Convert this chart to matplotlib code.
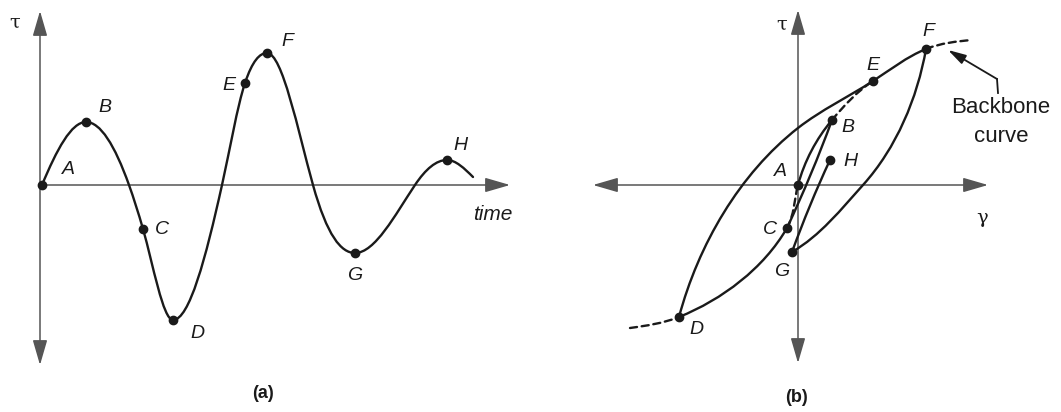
import numpy as np
import matplotlib.pyplot as plt
from matplotlib.path import Path
from matplotlib.patches import PathPatch

# (a) stress-time history: knots and slope dtau/dt at each knot
sig_x = [2, 46, 89, 103, 133, 182, 205, 227, 273, 315, 375, 407, 433]
sig_y = [0, 63, 0, -44, -135, 0, 102, 132, 0, -68, 0, 25, 8]
sig_slope = [2.4, 0, -2.8, -3.5, 0, 4.5, 3.0, 0, -3.6, 0, 1.5, 0, -1.0]
sig_names = ["A", "B", "C", "D", "E", "F", "G", "H"]
sig_idx = [0, 1, 3, 4, 6, 7, 9, 11]

# (b) backbone curve, drawn piecewise (solid where the loading follows it)
bb_x = [-168, -119, -11, 0, 34, 75, 128, 174]
bb_y = [-143, -132, -43, 0, 65, 104, 136, 145]
bb_ang = [8, 22, 60, 75, 50, 33, 22, 5]
bb_style = ["--", "-", "--", "-", "--", "-", "--"]

# (b) hysteresis branches: knots and travel direction (deg)
reload_x, reload_y, reload_ang = [-119, 0, 75], [-132, 57, 104], [75, 38, 33]
unload_x, unload_y, unload_ang = [128, 65, -6], [136, 0, -67], [-100, -132, -150]
bc_x, bc_y, bc_ang = [34, -11], [65, -43], [-110, -115]
gh_x, gh_y, gh_ang = [-6, 32], [-67, 25], [70, 65]

hyst_names = ["A", "B", "C", "D", "E", "F", "G", "H"]
hyst_x = [0, 34, -11, -119, 75, 128, -6, 32]
hyst_y = [0, 65, -43, -132, 104, 136, -67, 25]

# label placement
sig_lbl = [(28, 15), (65, 77), (122, -44), (157, -148), (189, 99), (247, 143), (315, -90), (420, 40)]
hyst_lbl = [(-18, 13), (50, 58), (-28, -45), (-102, -145), (75, 120), (130, 153), (-16, -87), (52, 23)]

INK = "#1a1a1a"
AXC = "#555555"
LW = 1.7


def path_by_angle(xs, ys, angs):
    verts = [(xs[0], ys[0])]
    codes = [Path.MOVETO]
    for i in range(len(xs) - 1):
        x0, y0, x1, y1 = xs[i], ys[i], xs[i + 1], ys[i + 1]
        h = np.hypot(x1 - x0, y1 - y0) / 3
        a0, a1 = np.radians(angs[i]), np.radians(angs[i + 1])
        verts += [(x0 + h * np.cos(a0), y0 + h * np.sin(a0)),
                  (x1 - h * np.cos(a1), y1 - h * np.sin(a1)),
                  (x1, y1)]
        codes += [Path.CURVE4] * 3
    return Path(verts, codes)


def path_by_slope(xs, ys, slopes):
    verts = [(xs[0], ys[0])]
    codes = [Path.MOVETO]
    for i in range(len(xs) - 1):
        x0, y0, x1, y1 = xs[i], ys[i], xs[i + 1], ys[i + 1]
        d = (x1 - x0) / 3
        verts += [(x0 + d, y0 + d * slopes[i]), (x1 - d, y1 - d * slopes[i + 1]), (x1, y1)]
        codes += [Path.CURVE4] * 3
    return Path(verts, codes)


def draw(ax, path, ls="-"):
    patch = PathPatch(path, fc="none", ec=INK, lw=LW, capstyle="round", zorder=3)
    if ls == "--":
        patch.set_linestyle((0, (3, 2)))
    ax.add_patch(patch)


def axis_arrow(ax, p0, p1, both=False):
    style = "<|-|>" if both else "-|>"
    ax.annotate("", xy=p1, xytext=p0,
                arrowprops=dict(arrowstyle=style + ",head_length=1.1,head_width=0.32",
                                mutation_scale=14, color=AXC, lw=1.1,
                                shrinkA=0, shrinkB=0), zorder=2)


fig = plt.figure(figsize=(10.61, 4.12), dpi=100)
ax_a = fig.add_axes([0, 0, 530 / 1061, 1])
ax_b = fig.add_axes([530 / 1061, 0, 531 / 1061, 1])
ax_a.set_xlim(-40, 490)
ax_b.set_xlim(-268, 263)
for ax in (ax_a, ax_b):
    ax.set_ylim(-227, 185)
    ax.axis("off")

lbl_font = dict(family="Liberation Sans", style="italic", fontsize=14, color=INK,
                ha="center", va="center")
greek_font = dict(family="DejaVu Serif", fontsize=14, color=INK, ha="center", va="center")

# ---- (a) ----
axis_arrow(ax_a, (0, 0), (470, 0))
axis_arrow(ax_a, (0, -180), (0, 174), both=True)
draw(ax_a, path_by_slope(sig_x, sig_y, sig_slope))
ax_a.plot([sig_x[i] for i in sig_idx], [sig_y[i] for i in sig_idx], "o",
          color=INK, ms=6, zorder=4)
for name, (lx, ly) in zip(sig_names, sig_lbl):
    ax_a.text(lx, ly, name, **lbl_font)
ax_a.text(-25, 162, "τ", **greek_font)
ax_a.text(453, -30, "time", **{**lbl_font, "fontsize": 15})
ax_a.text(223, -208, "(a)", family="Liberation Sans", weight="bold", fontsize=13,
          ha="center", va="center", color=INK)

# ---- (b) ----
axis_arrow(ax_b, (-205, 0), (190, 0), both=True)
axis_arrow(ax_b, (0, -178), (0, 175), both=True)
for i, ls in enumerate(bb_style):
    draw(ax_b, path_by_angle(bb_x[i:i + 2], bb_y[i:i + 2], bb_ang[i:i + 2]), ls=ls)
draw(ax_b, path_by_angle(reload_x, reload_y, reload_ang))
draw(ax_b, path_by_angle(unload_x, unload_y, unload_ang))
draw(ax_b, path_by_angle(bc_x, bc_y, bc_ang))
draw(ax_b, path_by_angle(gh_x, gh_y, gh_ang))
ax_b.plot(hyst_x, hyst_y, "o", color=INK, ms=6, zorder=4)
for name, (lx, ly) in zip(hyst_names, hyst_lbl):
    ax_b.text(lx, ly, name, **lbl_font)
ax_b.text(-16, 160, "τ", **greek_font)
ax_b.text(184, -33, "γ", **greek_font)
ax_b.text(-1, -212, "(b)", family="Liberation Sans", weight="bold", fontsize=13,
          ha="center", va="center", color=INK)

ax_b.text(203, 63, "Backbone\ncurve", family="Liberation Sans", fontsize=16,
          color=INK, ha="center", va="center", linespacing=1.45)
ax_b.plot([200, 199], [92, 106], color=INK, lw=1.3)
ax_b.annotate("", xy=(150, 135), xytext=(199, 106),
              arrowprops=dict(arrowstyle="-|>,head_length=0.9,head_width=0.25",
                              mutation_scale=12, color=INK, lw=1.3,
                              shrinkA=0, shrinkB=0))

fig.savefig("out.png", dpi=100)
